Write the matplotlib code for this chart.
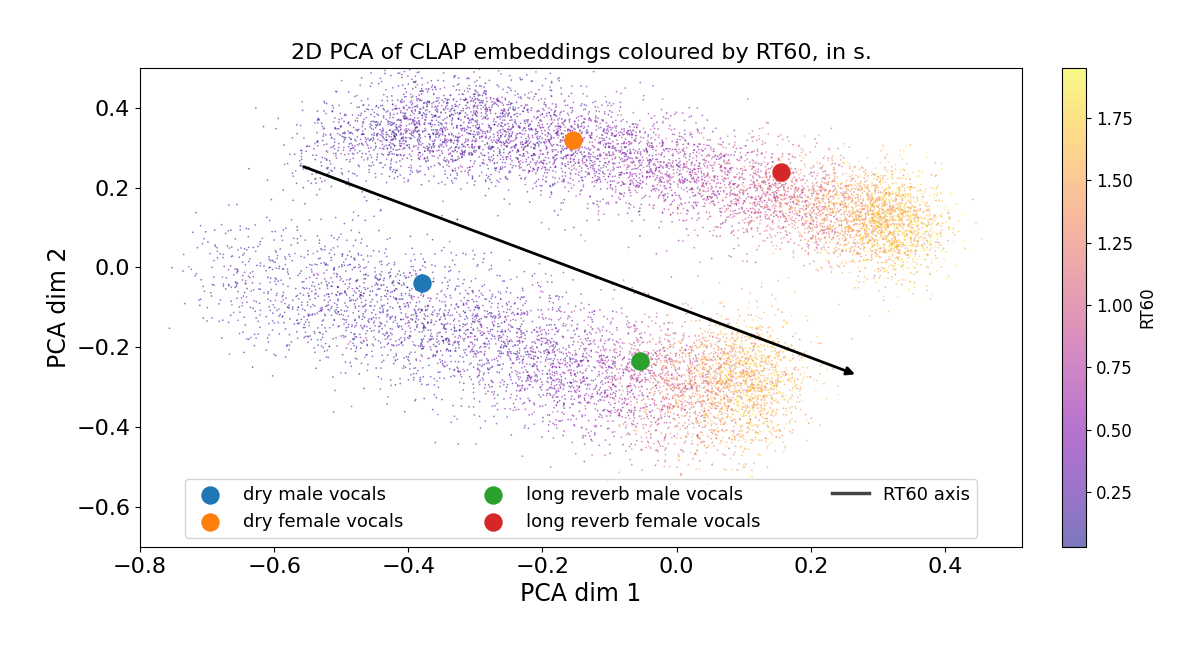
import numpy as np
import matplotlib
matplotlib.use("Agg")
import matplotlib.pyplot as plt

# Cloud outlines: band centre points (x, y), spread, typical RT60
upper_x = [-0.55, -0.42, -0.30, -0.15, 0.00, 0.15, 0.28, 0.36]
upper_y = [0.28, 0.35, 0.35, 0.30, 0.24, 0.18, 0.12, 0.10]
upper_rt = [0.15, 0.2, 0.25, 0.4, 0.6, 1.0, 1.5, 1.7]
upper_n = [400, 900, 1000, 900, 900, 1100, 1500, 900]
lower_x = [-0.70, -0.55, -0.40, -0.25, -0.12, 0.00, 0.08, 0.15]
lower_y = [-0.02, -0.06, -0.12, -0.20, -0.27, -0.30, -0.30, -0.27]
lower_rt = [0.1, 0.15, 0.2, 0.3, 0.5, 1.1, 1.5, 1.6]
lower_n = [300, 700, 800, 800, 800, 1000, 1100, 700]

ref_labels = ["dry male vocals", "dry female vocals", "long reverb male vocals", "long reverb female vocals"]
ref_x = [-0.38, -0.155, -0.055, 0.155]
ref_y = [-0.04, 0.32, -0.235, 0.24]
ref_colors = ["#1f77b4", "#ff7f0e", "#2ca02c", "#d62728"]
axis_start = (-0.56, 0.255)
axis_end = (0.27, -0.27)

rng = np.random.default_rng(0)
xs, ys, cs = [], [], []
for bx, by, brt, bn, sy in [(upper_x, upper_y, upper_rt, upper_n, 0.065),
                            (lower_x, lower_y, lower_rt, lower_n, 0.085)]:
    for i in range(len(bx) - 1):
        t = rng.random(bn[i])
        x = bx[i] + t * (bx[i + 1] - bx[i]) + rng.normal(0, 0.035, bn[i])
        y = by[i] + t * (by[i + 1] - by[i]) + rng.normal(0, sy, bn[i])
        c = brt[i] + t * (brt[i + 1] - brt[i]) + rng.normal(0, 0.2, bn[i])
        xs.append(x); ys.append(y); cs.append(np.clip(c, 0.03, 1.95))
xs = np.concatenate(xs); ys = np.concatenate(ys); cs = np.concatenate(cs)
order = np.argsort(cs)

fig = plt.figure(figsize=(12, 6.52), dpi=100)
ax = fig.add_axes([0.1167, 0.161, 0.735, 0.735])
cax = fig.add_axes([0.885, 0.161, 0.02, 0.735])
sc = ax.scatter(xs[order], ys[order], c=cs[order], cmap="plasma", s=1.5, alpha=0.55,
                vmin=0.03, vmax=1.95, linewidths=0)
for lab, x, y, col in zip(ref_labels, ref_x, ref_y, ref_colors):
    ax.scatter([x], [y], s=150, color=col, label=lab, zorder=5)
ax.annotate("", xy=axis_end, xytext=axis_start,
            arrowprops=dict(arrowstyle="-|>", color="black", lw=2, mutation_scale=12))
ax.plot([], [], color="#444444", lw=2.5, label="RT60 axis")
ax.set_xlim(-0.8, 0.515)
ax.set_ylim(-0.7, 0.5)
ax.set_xticks([-0.8, -0.6, -0.4, -0.2, 0.0, 0.2, 0.4])
ax.set_yticks([-0.6, -0.4, -0.2, 0.0, 0.2, 0.4])
ax.tick_params(labelsize=16)
ax.set_xlabel("PCA dim 1", fontsize=17)
ax.set_ylabel("PCA dim 2", fontsize=17)
ax.set_title("2D PCA of CLAP embeddings coloured by RT60, in s.", fontsize=16)
ax.legend(loc="lower center", ncol=3, fontsize=13, frameon=True, columnspacing=4)
cb = fig.colorbar(sc, cax=cax)
cb.set_label("RT60", fontsize=12)
cb.set_ticks([0.25, 0.5, 0.75, 1.0, 1.25, 1.5, 1.75])
cax.tick_params(labelsize=12)
fig.savefig("out.png")
